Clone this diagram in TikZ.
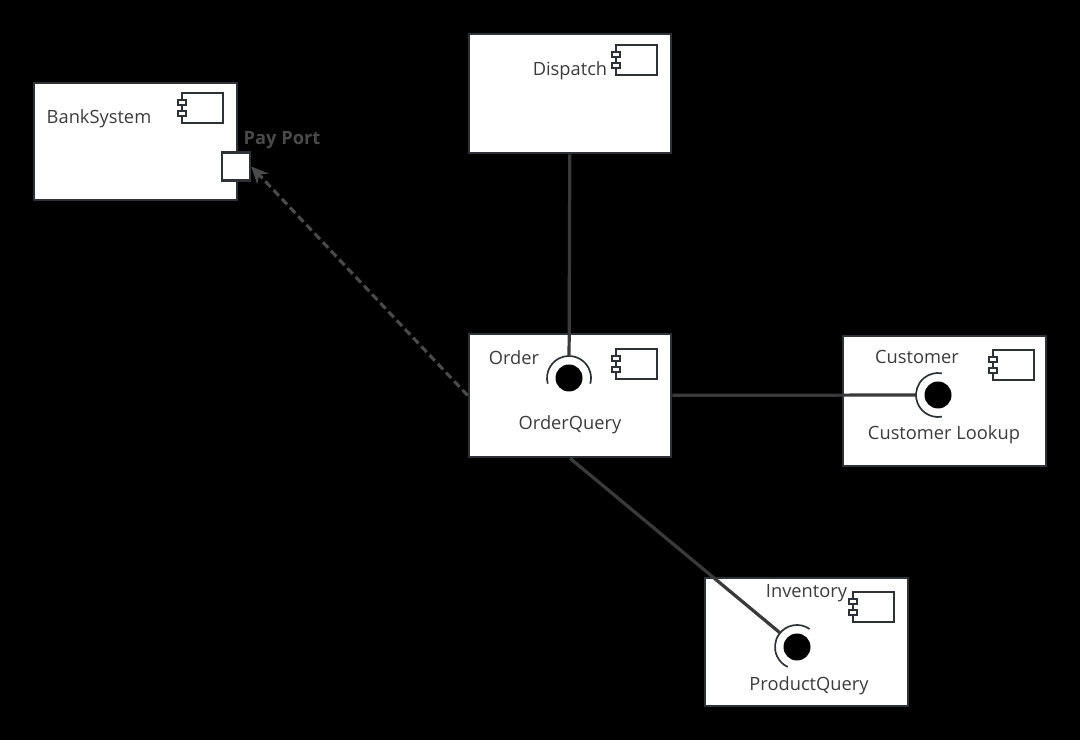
\documentclass[tikz,border=0pt]{standalone}
\usepackage{fontspec}
\setmainfont{Open Sans}
\usetikzlibrary{arrows.meta}

\definecolor{boxgray}{HTML}{2E3236}
\definecolor{linegray}{HTML}{3A3A3A}
\definecolor{txtgray}{HTML}{3C3C3C}
\definecolor{portgray}{HTML}{4A4A4A}

\tikzset{compicon/.pic={
    \draw[icon] (-41,0) rectangle (0,30);
    \draw[icon] (-45,7) rectangle (-37,12);
    \draw[icon] (-45,18) rectangle (-37,23);
  }}

\begin{document}
\begin{tikzpicture}[x=0.025cm, y=-0.025cm,
    comp/.style={rectangle, draw=boxgray, fill=white, line width=1.8pt, inner sep=0pt},
    icon/.style={draw=boxgray, fill=white, line width=1.1pt},
    lbl/.style={text=txtgray, font=\fontsize{13}{15}\selectfont, inner sep=0pt},
    portlbl/.style={text=portgray, font=\bfseries\fontsize{13}{15}\selectfont, inner sep=0pt},
    wire/.style={draw=linegray, line width=2.3pt},
    dep/.style={draw=portgray, line width=2.2pt, dash pattern=on 5.5pt off 3pt,
      -{Stealth[length=12pt, width=11pt]}},
    ball/.style={circle, fill=black, minimum size=27*0.025cm, inner sep=0pt},
    sock/.style={circle, minimum size=44*0.025cm, inner sep=0pt},
    arcline/.style={draw=boxgray, line width=1.2pt}
    ]
    \fill[black] (0,0) rectangle (1080,740);
    \useasboundingbox (0,0) rectangle (1080,740);

    % components
    \node[comp, minimum width=203*0.025cm, minimum height=117*0.025cm] (bank) at (135.5,141.5) {};
    \node[comp, minimum width=202*0.025cm, minimum height=119*0.025cm] (dispatch) at (570,93.5) {};
    \node[comp, minimum width=202*0.025cm, minimum height=123*0.025cm] (order) at (570,395.5) {};
    \node[comp, minimum width=203*0.025cm, minimum height=130*0.025cm] (customer) at (944.5,401) {};
    \node[comp, minimum width=203*0.025cm, minimum height=128*0.025cm] (inventory) at (806.5,642) {};
    \node[comp, minimum size=28*0.025cm] (payport) at (236,166.5) {};

    \pic at (223,93) {compicon};
    \pic at (657,45) {compicon};
    \pic at (657,349) {compicon};
    \pic at (1034,350) {compicon};
    \pic at (894,592) {compicon};

    % texts
    \node[lbl] (banktxt) at (99,119) {BankSystem};
    \node[lbl] (disptxt) at (570,71) {Dispatch};
    \node[lbl] (ordtxt) at (514,358) {Order};
    \node[lbl] (oqtxt) at (570,425) {OrderQuery};
    \node[lbl] (custtxt) at (917,357) {Customer};
    \node[lbl] (cltxt) at (944,435) {Customer Lookup};
    \node[lbl] (invtxt) at (806.5,593) {Inventory};
    \node[lbl] (pqtxt) at (809,686) {ProductQuery};
    \node[portlbl] (paytxt) at (282,140) {Pay Port};

    % balls and sockets
    \node[sock] (ordsock) at (569,378) {};
    \node[sock] (custsock) at (938,395) {};
    \node[sock] (invsock) at (797,647) {};
    \node[ball] (ordball) at (ordsock) {};
    \node[ball] (custball) at (custsock) {};
    \node[ball] (invball) at (invsock) {};
    \draw[arcline] (ordsock.center) ++(165:22) arc[start angle=165, end angle=375, radius=22];
    \draw[arcline] (custsock.center) ++(80:22) arc[start angle=80, end angle=280, radius=22];
    \draw[arcline] (invsock.center) ++(305:22) arc[start angle=305, end angle=115, radius=22];

    % connectors
    \draw[wire] (dispatch) -- (ordsock);
    \draw[wire] (order) -- (custsock);
    \draw[wire] (order.south) -- (invsock);
    \draw[dep] (order.west) -- (payport.east);
  \end{tikzpicture}
\end{document}
